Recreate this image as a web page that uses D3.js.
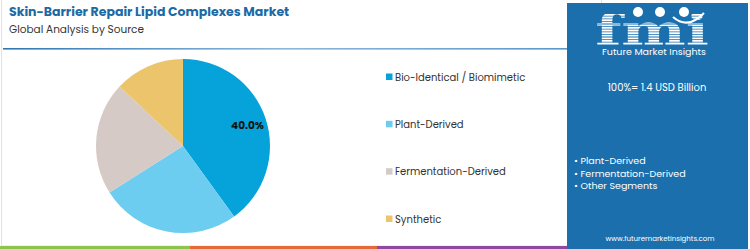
<!DOCTYPE html>
<html>
<head>
<meta charset="utf-8">
<script src="https://cdn.jsdelivr.net/npm/d3@7"></script>
<style>
  body { margin: 0; background: #fff; }
  text { font-family: "Poppins", "Open Sans", "Noto Sans", sans-serif; }
</style>
</head>
<body>
<svg id="chart"></svg>
<script>
// chart data
const segments = ["Bio-Identical / Biomimetic", "Plant-Derived", "Fermentation-Derived", "Synthetic"];
const shares = [40, 26, 21, 13];
const colours = ["#05a3d9", "#6ccdf1", "#d6cac6", "#ebc46c"];
const panelBullets = ["Plant-Derived", "Fermentation-Derived", "Other Segments"];
const totalLabel = "100%= 1.4 USD Billion";

const width = 750, height = 249;
let svg = d3.select("#chart")
    .attr("width", width)
    .attr("height", height);

// card border on the left
svg.append("rect")
    .attr("x", 1.5).attr("y", -2)
    .attr("width", 600).attr("height", 248)
    .attr("fill", "none")
    .attr("stroke", "#e2e2e2");

// title block
svg.append("text")
    .attr("x", 9).attr("y", 16)
    .attr("font-size", "12.5px")
    .attr("font-weight", "bold")
    .attr("fill", "#1b6aa5")
    .text("Skin-Barrier Repair Lipid Complexes Market");

svg.append("text")
    .attr("x", 9).attr("y", 33)
    .attr("font-size", "10.5px")
    .attr("fill", "#333")
    .text("Global Analysis by Source");

// underline with fade
let defs = svg.append("defs");
let grad = defs.append("linearGradient")
    .attr("id", "rule");
grad.append("stop").attr("offset", "0%").attr("stop-color", "#2f78b0");
grad.append("stop").attr("offset", "50%").attr("stop-color", "#8bb7dc");
grad.append("stop").attr("offset", "100%").attr("stop-color", "#5b97c8");
svg.append("rect")
    .attr("x", 3).attr("y", 48)
    .attr("width", 565).attr("height", 1.6)
    .attr("fill", "url(#rule)");

// bottom colour stripe
const stripe = [["#8dc44e", 0, 190], ["#e46a3c", 190, 377], ["#8e4b9d", 377, 567]];
svg.selectAll(".stripe")
    .data(stripe)
    .enter()
    .append("rect")
    .attr("x", d => d[1])
    .attr("y", 246)
    .attr("width", d => d[2] - d[1])
    .attr("height", 3)
    .attr("fill", d => d[0]);

// pie
let radius = 87;
let g = svg.append("g")
    .attr("transform", "translate(183,146)");

let pie = d3.pie().sort(null);
let arc = d3.arc().innerRadius(0).outerRadius(radius);
let pied = pie(shares);

g.selectAll("path")
    .data(pied)
    .enter()
    .append("path")
    .attr("d", arc)
    .attr("fill", (d, i) => colours[i]);

// only the largest slice gets a label
let labelArc = d3.arc().innerRadius(radius * 0.78).outerRadius(radius * 0.78);
g.append("text")
    .datum(pied[0])
    .attr("transform", d => {
        let c = labelArc.centroid(d);
        return `translate(${c[0]},${c[1]})`;
    })
    .attr("text-anchor", "middle")
    .attr("dy", "0.35em")
    .attr("font-size", "10.5px")
    .attr("font-weight", "bold")
    .attr("fill", "#111")
    .text(d => d3.format(".1f")(d.data / d3.sum(shares) * 100) + "%");

// legend
let legendY = d3.scalePoint()
    .domain(segments)
    .range([77, 219]);

let legend = svg.selectAll(".legend")
    .data(segments)
    .enter()
    .append("g")
    .attr("transform", d => `translate(386,${legendY(d)})`);

legend.append("rect")
    .attr("x", 0).attr("y", -3.5)
    .attr("width", 6.5).attr("height", 6.5)
    .attr("fill", (d, i) => colours[i]);

legend.append("text")
    .attr("x", 9)
    .attr("dy", "0.35em")
    .attr("font-size", "10px")
    .attr("fill", "#333")
    .text(d => d);

// right info panel
let panel = svg.append("g");
panel.append("rect")
    .attr("x", 567).attr("y", 3)
    .attr("width", 181).attr("height", 246)
    .attr("fill", "#1a6fac");

// logo, drawn roughly: striped fmi letters
let clip = defs.append("clipPath").attr("id", "stripes");
d3.range(14, 46, 2.6).forEach(y => {
    clip.append("rect").attr("x", 590).attr("y", y).attr("width", 130).attr("height", 1.8);
});
panel.append("g")
    .attr("clip-path", "url(#stripes)")
    .append("text")
    .attr("transform", "translate(652,45) scale(1.45,1)")
    .attr("text-anchor", "middle")
    .attr("font-size", "42px")
    .attr("font-weight", "bold")
    .attr("fill", "#fff")
    .style("font-family", "'DejaVu Serif', serif")
    .text("fmi");

[[638, 12], [660, 12], [684, 12]].forEach(p => {
    panel.append("circle")
        .attr("cx", p[0]).attr("cy", p[1]).attr("r", 5)
        .attr("fill", "#fff");
});
panel.append("path")
    .attr("d", "M673,17 Q688,30 704,13")
    .attr("fill", "none")
    .attr("stroke", "#fff")
    .attr("stroke-width", 2);

panel.append("text")
    .attr("x", 654).attr("y", 55)
    .attr("text-anchor", "middle")
    .attr("font-size", "9.5px")
    .attr("fill", "#fff")
    .text("Future Market Insights");

panel.append("text")
    .attr("x", 657).attr("y", 91)
    .attr("text-anchor", "middle")
    .attr("font-size", "10px")
    .attr("fill", "#fff")
    .text(totalLabel);

panel.selectAll(".bullet")
    .data(panelBullets)
    .enter()
    .append("text")
    .attr("x", 574)
    .attr("y", (d, i) => 164 + i * 12.5)
    .attr("font-size", "9.5px")
    .attr("fill", "#fff")
    .text(d => "\u2022 " + d);

panel.append("text")
    .attr("x", 660).attr("y", 241)
    .attr("text-anchor", "middle")
    .attr("font-size", "7px")
    .attr("fill", "#fff")
    .text("www.futuremarketinsights.com");
</script>
</body>
</html>
